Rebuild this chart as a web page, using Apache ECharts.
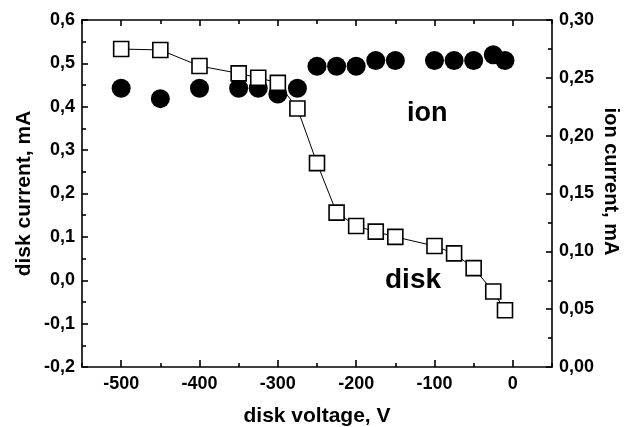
<!DOCTYPE html>
<html>
<head>
<meta charset="utf-8">
<script src="https://cdn.jsdelivr.net/npm/echarts@6/dist/echarts.min.js"></script>
<style>html,body{margin:0;padding:0;background:#fff;}#c{width:629px;height:427px;}</style>
</head>
<body>
<div id="c"></div>
<script>
// Disk current (left axis, mA) vs disk voltage (V)
const diskVoltage = [-500, -450, -400, -350, -325, -300, -275, -250, -225, -200, -175, -150, -100, -75, -50, -25, -10];
const diskCurrent = [0.533, 0.531, 0.494, 0.477, 0.467, 0.455, 0.396, 0.270, 0.156, 0.125, 0.112, 0.100, 0.079, 0.062, 0.028, -0.026, -0.069];
// Ion current (right axis, mA)
const ionVoltage = [-500, -450, -400, -350, -325, -300, -275, -250, -225, -200, -175, -150, -100, -75, -50, -25, -10];
const ionCurrent = [0.241, 0.232, 0.241, 0.241, 0.241, 0.236, 0.241, 0.260, 0.260, 0.260, 0.265, 0.265, 0.265, 0.265, 0.265, 0.270, 0.265];
// Tick labels
const xTickValues = [-500, -400, -300, -200, -100, 0];
const xMinorTickValues = [-550, -450, -350, -250, -150, -50, 50];

const FONT = "'Liberation Sans', Arial, sans-serif";
const chart = echarts.init(document.getElementById('c'), null, {renderer: 'canvas'});
const lineStyle = {color: '#000', width: 1.6};
const lab = {fontFamily: FONT, fontWeight: 'bold', fontSize: 18, color: '#000'};
const fmt1 = v => v.toFixed(1).replace('.', ',');
const fmt2 = v => v.toFixed(2).replace('.', ',');

chart.setOption({
  animation: false,
  backgroundColor: '#fff',
  grid: {left: 82, right: 77, top: 20, bottom: 60, outerBoundsMode: 'none', containLabel: false},
  xAxis: [
    {type: 'value', position: 'bottom', min: -550, max: 50,
     axisLine: {onZero: false, lineStyle}, splitLine: {show: false},
     axisTick: {inside: true, length: 7, lineStyle, customValues: xTickValues},
     axisLabel: Object.assign({margin: 8, customValues: xTickValues, formatter: v => String(v)}, lab),
     name: 'disk voltage, V', nameLocation: 'middle', nameGap: 39, nameMoveOverlap: false,
     nameTextStyle: {fontFamily: FONT, fontWeight: 'bold', fontSize: 21, color: '#000'}},
    {type: 'value', position: 'bottom', min: -550, max: 50,
     axisLine: {show: false, onZero: false}, splitLine: {show: false}, axisLabel: {show: false},
     axisTick: {inside: true, length: 4, lineStyle, customValues: xMinorTickValues}},
    {type: 'value', position: 'top', min: -550, max: 50,
     axisLine: {onZero: false, lineStyle}, splitLine: {show: false}, axisLabel: {show: false},
     axisTick: {inside: true, length: 6, lineStyle, customValues: xTickValues}},
    {type: 'value', position: 'top', min: -550, max: 50,
     axisLine: {show: false, onZero: false}, splitLine: {show: false}, axisLabel: {show: false},
     axisTick: {inside: true, length: 4, lineStyle, customValues: xMinorTickValues}}
  ],
  yAxis: [
    {type: 'value', position: 'left', min: -0.2, max: 0.6, interval: 0.1,
     axisLine: {show: true, onZero: false, lineStyle}, splitLine: {show: false},
     axisTick: {show: true, inside: true, length: 6, lineStyle},
     minorTick: {show: true, splitNumber: 2, length: 4, lineStyle},
     axisLabel: Object.assign({margin: 7, formatter: fmt1}, lab),
     name: 'disk current, mA', nameLocation: 'middle', nameGap: 47, nameMoveOverlap: false,
     nameTextStyle: {fontFamily: FONT, fontWeight: 'bold', fontSize: 21, color: '#000'}},
    {type: 'value', position: 'right', min: 0, max: 0.3, interval: 0.05,
     axisLine: {show: true, onZero: false, lineStyle}, splitLine: {show: false},
     axisTick: {show: true, inside: true, length: 6, lineStyle},
     minorTick: {show: true, splitNumber: 2, length: 4, lineStyle},
     axisLabel: Object.assign({margin: 7, formatter: fmt2}, lab),
     name: 'ion current, mA', nameLocation: 'middle', nameGap: 49, nameRotate: -90, nameMoveOverlap: false,
     nameTextStyle: {fontFamily: FONT, fontWeight: 'bold', fontSize: 20, color: '#000', padding: [0, 24, 0, 0]}}
  ],
  series: [
    {name: 'disk', type: 'line', xAxisIndex: 0, yAxisIndex: 0,
     data: diskVoltage.map((x, i) => [x, diskCurrent[i]]),
     symbol: 'rect', symbolSize: 15, showAllSymbol: true,
     lineStyle: {color: '#000', width: 1},
     itemStyle: {color: '#fff', borderColor: '#000', borderWidth: 1.6}, z: 3},
    {name: 'ion', type: 'scatter', xAxisIndex: 0, yAxisIndex: 1,
     data: ionVoltage.map((x, i) => [x, ionCurrent[i]]),
     symbol: 'circle', symbolSize: 19,
     itemStyle: {color: '#000', opacity: 1}, z: 2}
  ],
  graphic: [
    {type: 'text', left: 407, top: 100, style: {text: 'ion', fontFamily: FONT, fontWeight: 'bold', fontSize: 27, fill: '#000'}},
    {type: 'text', left: 385, top: 266, style: {text: 'disk', fontFamily: FONT, fontWeight: 'bold', fontSize: 28, fill: '#000'}}
  ]
});
</script>
</body>
</html>
